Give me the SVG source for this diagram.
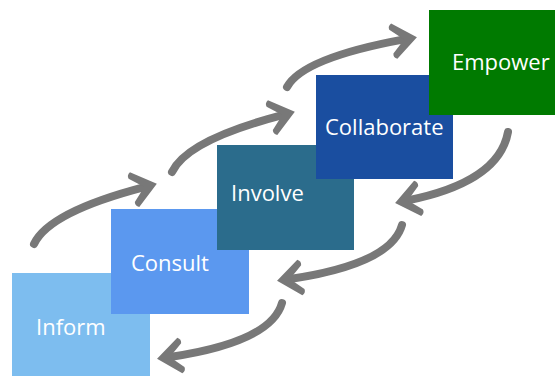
<svg xmlns="http://www.w3.org/2000/svg" xmlns:xlink="http://www.w3.org/1999/xlink" width="555" height="376" viewBox="0 0 555 376">
<defs>
<style>
.lbl{font-family:"Open Sans","Liberation Sans",sans-serif;font-size:22px;fill:#ffffff;}
.shaft{fill:none;stroke:#787878;stroke-width:8;stroke-linecap:round;}
.head{fill:#787878;}
</style>
<path id="ah" d="M 5,0 L -18,-18 Q -22,-16 -21,-12 L -8,0 L -21,12 Q -22,16 -18,18 Z"/>
</defs>
<rect width="555" height="376" fill="#ffffff"/>
<g id="inform"><rect x="12" y="273" width="138" height="110" fill="#7dbdef"/><text class="lbl" x="36" y="335">Inform</text></g>
<g id="consult"><rect x="111" y="209" width="138" height="105" fill="#5b98ef"/><text class="lbl" x="131" y="271">Consult</text></g>
<g id="involve"><rect x="217" y="145" width="137" height="105" fill="#2b6c8c"/><text class="lbl" x="231" y="201">Involve</text></g>
<g id="collaborate"><rect x="316" y="75" width="137" height="104" fill="#1a4ea0"/><text class="lbl" x="325" y="135">Collaborate</text></g>
<g id="empower"><rect x="429" y="10" width="130" height="105" fill="#007a00"/><text class="lbl" x="452" y="70">Empower</text></g>
<g id="connectors">
<path class="shaft" d="M34,244 Q49,212 144.3,187.1"/>
<use href="#ah" xlink:href="#ah" class="head" transform="translate(152,185) rotate(-15)"/>
<path class="shaft" d="M172,172 Q187,140 282.3,115.1"/>
<use href="#ah" xlink:href="#ah" class="head" transform="translate(290,113) rotate(-15)"/>
<path class="shaft" d="M287,87 Q303,58 404,39.4"/>
<use href="#ah" xlink:href="#ah" class="head" transform="translate(412,38) rotate(-10)"/>
<path class="shaft" d="M508,132 Q499,182 407.8,200.4"/>
<use href="#ah" xlink:href="#ah" class="head" transform="translate(400,202) rotate(168.5)"/>
<path class="shaft" d="M402,225 Q391,264 290,279"/>
<use href="#ah" xlink:href="#ah" class="head" transform="translate(282,280) rotate(172)"/>
<path class="shaft" d="M282,303 Q271,342 170,357"/>
<use href="#ah" xlink:href="#ah" class="head" transform="translate(162,358) rotate(172)"/>
</g>
</svg>
